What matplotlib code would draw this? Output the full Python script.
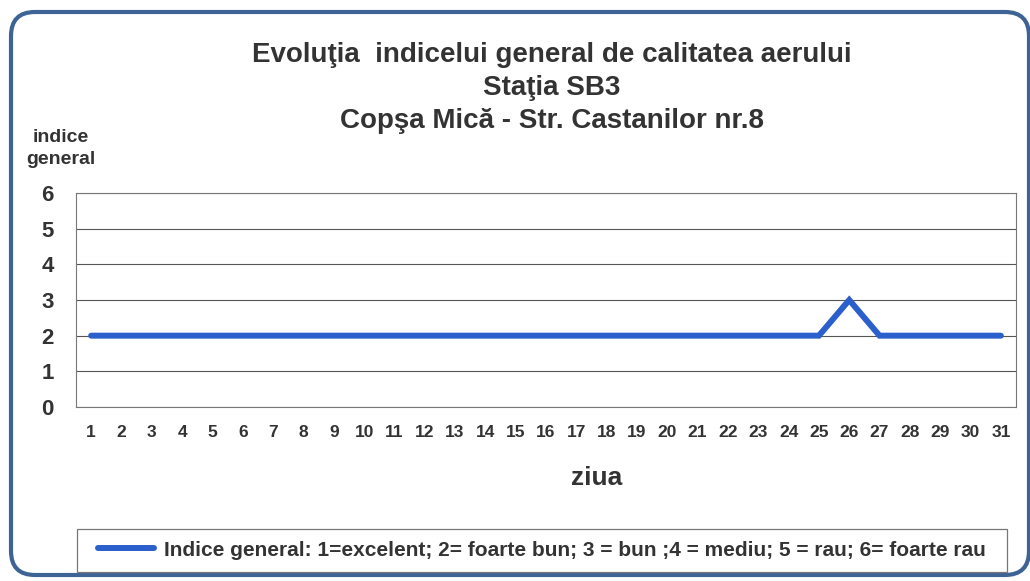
import matplotlib.pyplot as plt
from matplotlib.patches import FancyBboxPatch, Rectangle

plt.rcParams['font.family'] = ['Liberation Sans', 'DejaVu Sans']
plt.rcParams['font.weight'] = 'bold'

# data
zile = list(range(1, 32))
indice = [2] * 25 + [3] + [2] * 5
yticks = [0, 1, 2, 3, 4, 5, 6]

title_lines = ["Evoluţia  indicelui general de calitatea aerului",
               "Staţia SB3",
               "Copşa Mică - Str. Castanilor nr.8"]
legend_text = ("Indice general: 1=excelent; 2= foarte bun; 3 = bun ;4 = mediu; "
               "5 = rau; 6= foarte rau")

W, H = 1030, 581
txt = '#333333'
fig = plt.figure(figsize=(W / 100, H / 100), dpi=100)

# rounded frame round the whole chart, pixel coordinates
bg = fig.add_axes([0, 0, 1, 1])
bg.set_xlim(0, W)
bg.set_ylim(H, 0)
bg.axis('off')
bg.add_patch(FancyBboxPatch((11, 12), 1018, 563,
                            boxstyle='round,pad=0,rounding_size=24',
                            fc='white', ec='#3d6494', lw=3))
# legend frame
bg.add_patch(Rectangle((77, 529), 930, 43, fc='white', ec='#777777', lw=0.9))

ax = fig.add_axes([76 / W, 1 - 407 / H, 940 / W, 214 / H])
ax.plot(zile, indice, color='#2b5fcc', lw=4.3, solid_capstyle='round',
        solid_joinstyle='miter', label=legend_text, zorder=3)
ax.set_xlim(0.5, 31.5)
ax.set_ylim(0, 6)
ax.set_yticks(yticks)
ax.set_xticks(zile)
ax.yaxis.grid(True, color='#555555', lw=0.8)
ax.set_axisbelow(True)
for s in ax.spines.values():
    s.set_color('#777777')
    s.set_linewidth(0.8)
ax.tick_params(axis='both', length=0, colors=txt)
ax.tick_params(axis='y', labelsize=16, pad=16)
ax.tick_params(axis='x', labelsize=12.5, pad=13)
for lab in ax.get_xticklabels() + ax.get_yticklabels():
    lab.set_fontweight('bold')

for line, base in zip(title_lines, [62, 95, 128]):
    fig.text(552 / W, 1 - base / H, line, ha='center', va='baseline',
             fontsize=20, color=txt)
fig.text(61 / W, 1 - 142 / H, 'indice', ha='center', va='baseline',
         fontsize=14, color=txt)
fig.text(61 / W, 1 - 164 / H, 'general', ha='center', va='baseline',
         fontsize=14, color=txt)
fig.text(597 / W, 1 - 478 / H, 'ziua', ha='center', va='center',
         fontsize=19, color=txt)

leg = fig.legend(loc='center', bbox_to_anchor=(542 / W, 1 - 550 / H),
                 fontsize=15, handlelength=2.7, handletextpad=0.5,
                 frameon=False)
for t in leg.get_texts():
    t.set_color(txt)

fig.savefig('out.png', dpi=100)
